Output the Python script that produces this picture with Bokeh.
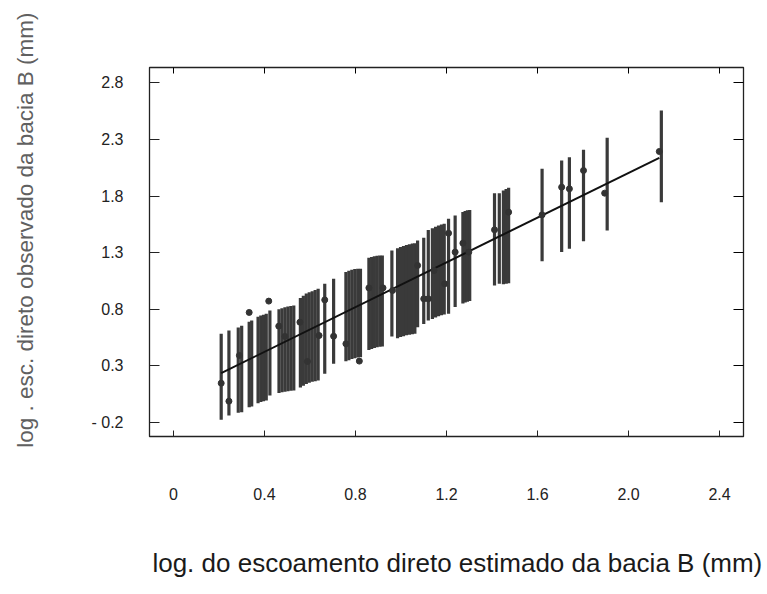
from bokeh.plotting import figure
from bokeh.models import Range1d, FixedTicker, LinearAxis, CustomJSTickFormatter, ColumnDataSource
from bokeh.embed import file_html
from bokeh.resources import INLINE

# ---- data ----
x_ticks = [0.0, 0.4, 0.8, 1.2, 1.6, 2.0, 2.4]
y_ticks = [-0.2, 0.3, 0.8, 1.3, 1.8, 2.3, 2.8]

bar_x = [0.210, 0.244,
         0.285, 0.300,
         0.333, 0.344,
         0.372, 0.384, 0.396, 0.408,
         0.424,
         0.464, 0.477, 0.490, 0.503, 0.516, 0.529,
         0.558, 0.571, 0.584, 0.597, 0.610, 0.623, 0.636,
         0.665, 0.704,
         0.758, 0.771, 0.784, 0.797, 0.810, 0.822,
         0.859, 0.871, 0.883, 0.895, 0.907, 0.918,
         0.960,
         0.985, 0.998, 1.011, 1.024, 1.037, 1.050, 1.061,
         1.073, 1.100,
         1.120, 1.138, 1.152, 1.165, 1.178, 1.190,
         1.209, 1.238,
         1.272, 1.282, 1.292, 1.302,
         1.411, 1.432,
         1.450, 1.462, 1.473,
         1.620, 1.706, 1.740, 1.802, 1.906, 2.144]
bar_hi = [0.583, 0.613,
          0.640, 0.654,
          0.690, 0.701,
          0.735, 0.745, 0.752, 0.760,
          0.789,
          0.800, 0.810, 0.818, 0.825, 0.830, 0.833,
          0.900, 0.920, 0.940, 0.950, 0.960, 0.970, 0.981,
          1.025, 1.069,
          1.130, 1.140, 1.150, 1.155, 1.157, 1.157,
          1.255, 1.262, 1.268, 1.272, 1.275, 1.275,
          1.319,
          1.340, 1.350, 1.360, 1.368, 1.375, 1.380, 1.384,
          1.408, 1.431,
          1.500, 1.515, 1.530, 1.540, 1.550, 1.555,
          1.599, 1.628,
          1.660, 1.668, 1.674, 1.678,
          1.826, 1.826,
          1.850, 1.862, 1.873,
          2.041, 2.114, 2.144, 2.209, 2.315, 2.556]
bar_lo = [-0.177, -0.138,
          -0.115, -0.109,
          -0.065, -0.059,
          -0.030, -0.020, -0.012, -0.006,
          0.038,
          0.060, 0.066, 0.072, 0.076, 0.080, 0.082,
          0.110, 0.125, 0.140, 0.150, 0.160, 0.165, 0.171,
          0.230, 0.318,
          0.340, 0.350, 0.360, 0.368, 0.374, 0.377,
          0.440, 0.450, 0.458, 0.464, 0.468, 0.471,
          0.560,
          0.545, 0.555, 0.562, 0.570, 0.575, 0.580, 0.583,
          0.642, 0.671,
          0.700, 0.715, 0.728, 0.738, 0.748, 0.754,
          0.760, 0.819,
          0.850, 0.860, 0.866, 0.872,
          1.010, 1.025,
          1.020, 1.026, 1.031,
          1.225, 1.305, 1.334, 1.402, 1.496, 1.746]

pt_x = [0.210, 0.244, 0.290, 0.333, 0.419, 0.463, 0.490, 0.556, 0.589, 0.640,
        0.665, 0.704, 0.758, 0.817, 0.859, 0.921, 0.963, 1.073, 1.100, 1.120,
        1.145, 1.192, 1.209, 1.238, 1.272, 1.298, 1.411, 1.473, 1.620, 1.706,
        1.740, 1.802, 1.895, 2.135]
pt_y = [0.147, -0.012, 0.392, 0.772, 0.872, 0.651, 0.560, 0.686, 0.339, 0.568,
        0.883, 0.562, 0.495, 0.342, 0.989, 0.989, 0.966, 1.187, 0.892, 0.892,
        1.143, 1.025, 1.472, 1.305, 1.384, 1.305, 1.502, 1.658, 1.634, 1.879,
        1.864, 2.026, 1.826, 2.194]

fit_x = [0.210, 2.135]
fit_y = [0.236, 2.138]

x_title = "log. do escoamento direto estimado da bacia B (mm)"
y_title = "log . esc. direto observado da bacia B (mm)"

assert len(bar_x) == len(bar_hi) == len(bar_lo)
assert len(pt_x) == len(pt_y)

FONT = "Liberation Sans"
NBSP = "\u00a0"

p = figure(width=764, height=590, output_backend="svg", toolbar_location=None,
           x_range=Range1d(-0.105, 2.505), y_range=Range1d(-0.324, 2.936),
           min_border_left=149, min_border_right=21, min_border_top=67,
           min_border_bottom=154)
p.grid.visible = False
p.background_fill_color = "white"
p.border_fill_color = "white"
p.outline_line_color = "#222222"
p.outline_line_width = 1.3

bars = ColumnDataSource(dict(x=bar_x, lo=bar_lo, hi=bar_hi))
p.segment(x0="x", y0="lo", x1="x", y1="hi", source=bars,
          line_color="#3a3a3a", line_width=3.2)
p.line(fit_x, fit_y, line_color="#111111", line_width=2)
p.scatter(pt_x, pt_y, size=6, fill_color="#333333", line_color="#333333")

xfmt = CustomJSTickFormatter(code="return Math.abs(tick) < 1e-9 ? '0' : tick.toFixed(1);")
yfmt = CustomJSTickFormatter(code="return tick < 0 ? '- ' + Math.abs(tick).toFixed(1) : tick.toFixed(1);")
blank = CustomJSTickFormatter(code="return '';")

xa = p.xaxis[0]
xa.ticker = FixedTicker(ticks=x_ticks)
xa.formatter = xfmt
xa.major_tick_in = 6
xa.major_tick_out = 0
xa.minor_tick_line_color = None
xa.axis_line_color = "#222222"
xa.major_tick_line_color = "#222222"
xa.major_label_standoff = 51
xa.major_label_text_font = FONT
xa.major_label_text_font_size = "16px"
xa.major_label_text_color = "#222222"
# leading spaces nudge the centred title slightly to the right, as in the original
xa.axis_label = NBSP * 3 + x_title
xa.axis_label_text_font = FONT
xa.axis_label_text_font_style = "normal"
xa.axis_label_text_font_size = "26px"
xa.axis_label_text_color = "#1a1a1a"
xa.axis_label_standoff = 45

ya = p.yaxis[0]
ya.ticker = FixedTicker(ticks=y_ticks)
ya.formatter = yfmt
ya.major_tick_in = 10
ya.major_tick_out = 0
ya.minor_tick_line_color = None
ya.axis_line_color = "#222222"
ya.major_tick_line_color = "#222222"
ya.major_label_standoff = 26
ya.major_label_text_font = FONT
ya.major_label_text_font_size = "16px"
ya.major_label_text_color = "#222222"
# leading spaces shift the centred (rotated) title upwards, as in the original
ya.axis_label = NBSP * 7 + y_title
ya.axis_label_text_font = FONT
ya.axis_label_text_font_style = "normal"
ya.axis_label_text_font_size = "22.5px"
ya.axis_label_text_color = "#606060"
ya.axis_label_standoff = 50

top = LinearAxis(ticker=FixedTicker(ticks=x_ticks), formatter=blank,
                 major_tick_in=6, major_tick_out=0, minor_tick_line_color=None,
                 major_label_standoff=0, axis_line_color="#222222")
right = LinearAxis(ticker=FixedTicker(ticks=y_ticks), formatter=blank,
                   major_tick_in=10, major_tick_out=0, minor_tick_line_color=None,
                   major_label_standoff=0, axis_line_color="#222222")
p.add_layout(top, "above")
p.add_layout(right, "right")

open("out.html", "w").write(file_html(p, INLINE))
